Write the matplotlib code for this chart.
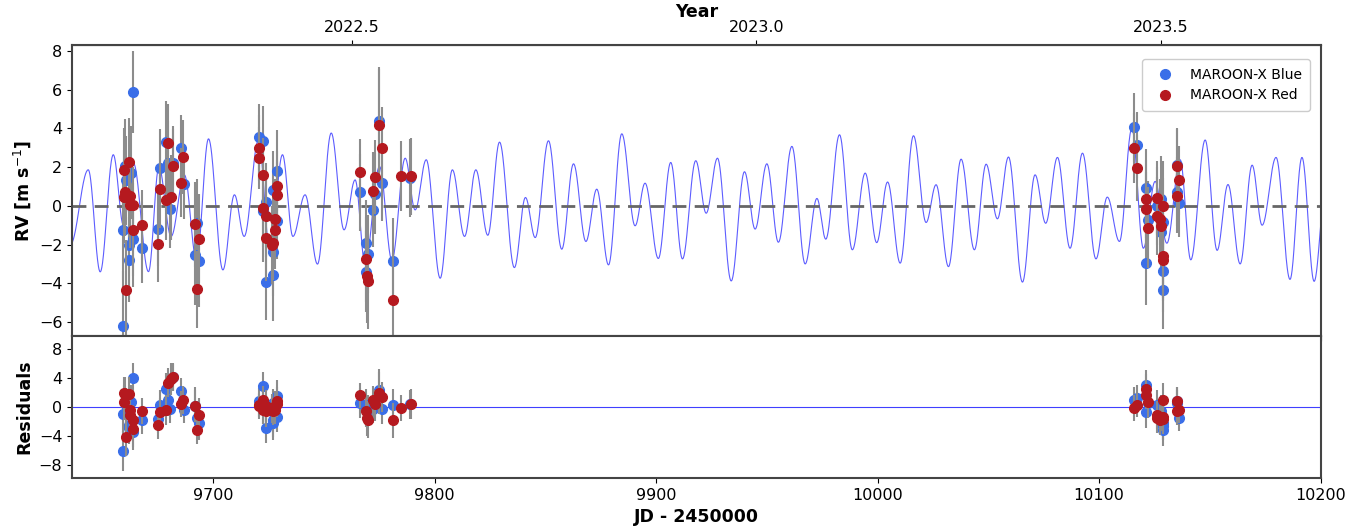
import numpy as np
import matplotlib
matplotlib.use("Agg")
import matplotlib.pyplot as plt
from matplotlib.lines import Line2D

# MAROON-X Blue: time (JD-2450000), RV, residual, error
t_blue = [9659.5, 9659.5, 9660.3, 9660.7, 9661.8, 9661.8, 9662.8, 9663.6, 9663.7, 9667.8,
          9674.9, 9675.8, 9678.8, 9679.8, 9680.6, 9681.8, 9685.7, 9686.9, 9691.9, 9692.6, 9693.7,
          9720.9, 9722.7, 9722.7, 9723.9, 9727.0, 9727.0, 9727.2, 9728.8, 9728.8, 9723.9,
          9766.1, 9768.9, 9768.9, 9770.1, 9772.1, 9773.1, 9775.1, 9776.2, 9781.1, 9788.9,
          10115.9, 10117.0, 10121.1, 10121.1, 10122.0, 10126.0, 10128.0, 10128.0, 10128.7,
          10128.7, 10128.7, 10135.1, 10135.1, 10136.1]
rv_blue = [-6.19, -1.24, 2.07, 1.31, -2.0, -2.79, 1.72, 5.88, -1.71, -2.19,
           -1.2, 1.95, 3.32, 2.2, -0.17, 2.2, 2.98, 1.14, -2.53, -0.9, -2.83,
           3.55, 3.36, -0.29, 0.22, -2.36, -3.57, 0.83, 1.81, -0.76, -3.91,
           0.69, -1.9, -3.41, -2.48, -0.24, 0.62, 4.36, 1.2, -2.84, 1.43,
           4.05, 3.15, 0.91, -2.93, -0.72, 0.0, 0.35, -1.33, -0.86,
           -3.36, -4.34, 2.12, 0.74, 0.17]
res_blue = [-6.03, -0.93, 0.56, 0.3, -2.46, -2.9, 0.65, 3.94, -3.4, -1.85,
            -1.67, 0.32, 2.55, 1.0, -0.2, 4.1, 2.27, -0.37, 0.19, -1.53, -2.13,
            0.88, 2.97, 0.2, -0.3, -1.76, -2.2, 0.5, 1.58, -1.39, -2.92,
            0.56, 0.32, -0.14, -0.37, -0.23, 0.2, 2.41, -0.3, 0.23, 0.4,
            1.0, 1.3, 3.1, -0.74, 0.6, 0.32, -0.5, -1.2, -2.2,
            -3.2, -2.6, 0.9, 0.5, -1.53]
err_blue = [2.8, 2.6, 2.4, 2.3, 2.5, 2.2, 2.4, 2.1, 2.5, 1.8,
            1.9, 2.0, 2.1, 2.2, 2.0, 1.9, 1.7, 1.8, 2.6, 2.3, 2.4,
            1.7, 1.8, 2.6, 2.0, 2.3, 2.4, 2.0, 2.1, 2.0, 2.0,
            2.0, 2.2, 2.1, 2.0, 1.9, 2.1, 2.8, 2.0, 2.2, 2.0,
            1.8, 1.7, 2.0, 2.2, 2.0, 2.0, 2.2, 2.2, 2.3,
            2.1, 2.0, 1.9, 1.8, 1.8]

# MAROON-X Red
t_red = [9659.8, 9659.8, 9660.3, 9660.7, 9661.8, 9662.5, 9662.5, 9663.6, 9663.7, 9667.8,
         9674.9, 9675.8, 9678.8, 9679.4, 9680.8, 9681.8, 9685.7, 9686.6, 9691.9, 9692.6, 9693.7,
         9720.9, 9720.9, 9722.7, 9722.7, 9723.9, 9723.9, 9726.5, 9727.0, 9727.7, 9727.7,
         9728.8, 9728.8,
         9766.1, 9768.9, 9769.4, 9770.1, 9772.1, 9773.1, 9775.1, 9776.2, 9781.1, 9784.9, 9789.3,
         10115.9, 10117.0, 10121.1, 10121.1, 10122.0, 10126.0, 10126.0, 10127.6, 10128.0,
         10128.7, 10128.7, 10128.7, 10135.1, 10136.1, 10135.1]
rv_red = [1.83, 0.48, 0.74, -4.34, 2.24, 0.52, 0.02, 0.02, -1.24, -0.98,
          -1.96, 0.86, 0.31, 3.24, 0.45, 2.07, 1.2, 2.52, -0.95, -4.31, -1.69,
          2.98, 2.47, 1.6, -0.12, -0.52, -1.67, -2.02, -1.93, -0.69, -1.24,
          1.03, 0.57,
          1.77, -2.76, -3.65, -3.86, 0.79, 1.48, 4.15, 2.98, -4.86, 1.55, 1.52,
          2.98, 1.95, 0.35, -0.17, -1.12, 0.4, -0.52, -0.69, -1.03,
          0.0, -2.58, -2.8, 2.07, 1.31, 0.52]
res_red = [1.95, 0.65, 1.85, -4.17, 1.85, -0.37, -1.07, -1.76, -3.06, -0.6,
           -2.46, -0.74, -0.37, 3.34, 3.9, 4.17, 0.46, 1.0, 0.19, -3.15, -1.07,
           0.09, 0.3, 1.0, -0.37, -0.6, 0.2, -0.14, -0.6, 0.1, -0.37,
           0.46, 0.9,
           1.62, -0.51, -1.53, -1.76, 0.93, 0.46, 1.95, 1.39, -1.85, -0.14, 0.42,
           -0.14, 0.32, 2.5, 1.7, 0.65, -1.07, -1.53, -1.76, -1.3,
           1.0, -1.3, -1.6, 0.88, -0.37, -0.6]
err_red = [2.2, 2.4, 2.3, 2.6, 2.3, 2.0, 2.2, 2.0, 2.4, 1.8,
           2.0, 2.0, 2.1, 2.0, 2.2, 1.9, 1.8, 1.9, 2.2, 2.0, 2.3,
           1.7, 1.6, 1.9, 2.0, 2.1, 2.2, 2.0, 1.9, 2.1, 2.0,
           1.8, 1.8,
           1.7, 2.2, 2.4, 2.5, 2.0, 1.9, 2.9, 2.1, 2.4, 1.8, 2.0,
           1.8, 1.7, 2.0, 1.9, 2.1, 1.9, 2.0, 2.1, 2.0,
           2.3, 2.2, 2.1, 1.9, 1.8, 1.9]

# model curve: turning points (time, RV)
model_t = [9635.5, 9643.6, 9649.0, 9654.9, 9659.5, 9664.0, 9670.8, 9675.5, 9681.0, 9687.0,
           9692.5, 9697.9, 9704.4, 9709.6, 9714.0, 9720.5, 9725.7, 9731.3, 9736.0, 9741.5,
           9747.1, 9753.3, 9759.1, 9764.1, 9768.6, 9775.1, 9780.7, 9786.7, 9791.2, 9796.2,
           9802.5, 9808.0, 9813.5, 9818.6, 9824.0, 9829.3, 9836.0, 9841.0, 9845.4, 9851.4,
           9857.4, 9862.7, 9868.3, 9873.2, 9878.5, 9884.5, 9890.5, 9895.0, 9901.0, 9906.6,
           9911.9, 9917.9, 9922.6, 9927.7, 9933.9, 9939.9, 9944.7, 9950.0, 9955.2, 9961.3,
           9967.3, 9972.6, 9976.6, 9982.8, 9988.6, 9994.4, 9999.6, 10004.5, 10010.2, 10016.2,
           10021.9, 10026.4, 10032.0, 10037.7, 10043.7, 10049.0, 10054.1, 10059.1, 10065.4, 10071.1,
           10075.9, 10081.2, 10086.9, 10092.5, 10098.6, 10103.7, 10109.2, 10114.8, 10120.0, 10125.3,
           10130.6, 10136.6, 10141.4, 10147.9, 10153.3, 10158.2, 10163.7, 10169.1, 10173.6, 10179.9,
           10186.2, 10191.6, 10197.1, 10202.0]
model_rv = [-2.0, 1.86, -3.41, 2.64, -1.0, 2.2, -3.4, 2.0, -1.58, 1.6,
            -2.8, 3.46, -3.31, 0.57, -1.58, 3.4, -2.4, 2.64, -1.58, 0.57,
            -3.01, 3.76, -1.24, 1.34, -3.0, 2.03, -2.8, 2.46, -0.21, 2.38,
            -3.74, 1.86, -1.58, 1.86, -1.52, 3.29, -3.19, 0.43, -1.64, 3.36,
            -2.24, 2.17, -1.84, 0.86, -3.05, 3.72, -1.03, 1.17, -2.72, 2.24,
            -2.74, 2.33, -0.38, 2.46, -3.88, 1.76, -1.2, 2.17, -1.88, 3.07,
            -3.0, 0.38, -1.72, 3.67, -2.27, 1.69, -1.9, 1.23, -2.96, 3.62,
            -0.86, 1.09, -3.14, 2.41, -2.27, 2.15, -0.67, 2.52, -3.94, 1.6,
            -0.9, 2.5, -2.19, 2.72, -2.74, 0.45, -1.84, 4.0, -2.19, 1.26,
            -1.93, 2.38, -2.79, 3.4, -2.3, 1.1, -3.0, 2.1, -1.0, 2.5,
            -3.8, 2.5, -3.9, 0.5]

year_ticks = [2022.5, 2023.0, 2023.5]

c_blue = '#3a6ee8'
c_red = '#b5191f'

# smooth line through the turning points
tt = []
vv = []
for i in range(len(model_t) - 1):
    s = np.linspace(0, 1, 40, endpoint=False)
    tt.append(model_t[i] + s * (model_t[i+1] - model_t[i]))
    vv.append(model_rv[i] + (model_rv[i+1] - model_rv[i]) * (1 - np.cos(np.pi * s)) / 2)
tt = np.concatenate(tt)
vv = np.concatenate(vv)

fig = plt.figure(figsize=(13.6, 5.29), dpi=100)
ax1 = fig.add_axes([0.053, 0.365, 0.918, 0.55])
ax2 = fig.add_axes([0.053, 0.096, 0.918, 0.269], sharex=ax1)

ax1.plot(tt, vv, color='#4040ff', lw=0.8, alpha=0.85, zorder=1)
ax1.axhline(0, color='#666666', ls='--', lw=2, dashes=(5, 3), zorder=2)
ax1.errorbar(t_blue, rv_blue, yerr=err_blue, fmt='o', color=c_blue, ecolor='#8c8c8c',
             elinewidth=1.5, ms=7, zorder=3)
ax1.errorbar(t_red, rv_red, yerr=err_red, fmt='o', color=c_red, ecolor='#8c8c8c',
             elinewidth=1.5, ms=7, zorder=4)
ax1.set_ylim(-6.72, 8.31)
ax1.set_yticks([-6, -4, -2, 0, 2, 4, 6, 8])
ax1.set_ylabel(r'RV [m s$^{-1}$]', fontsize=12.5, fontweight='bold')
ax1.tick_params(labelbottom=False, labelsize=11.5)
handles = [Line2D([], [], ls='none', marker='o', ms=7, color=c_blue),
           Line2D([], [], ls='none', marker='o', ms=7, color=c_red)]
ax1.legend(handles, ['MAROON-X Blue', 'MAROON-X Red'], loc='upper right', fontsize=10,
           handletextpad=0.8, borderpad=0.6, framealpha=1, edgecolor='#cccccc',
           bbox_to_anchor=(0.997, 0.975))

ax2.axhline(0, color='#4040ff', lw=0.8, zorder=1)
ax2.errorbar(t_blue, res_blue, yerr=err_blue, fmt='o', color=c_blue, ecolor='#8c8c8c',
             elinewidth=1.5, ms=7, zorder=3)
ax2.errorbar(t_red, res_red, yerr=err_red, fmt='o', color=c_red, ecolor='#8c8c8c',
             elinewidth=1.5, ms=7, zorder=4)
ax2.set_ylim(-9.8, 9.8)
ax2.set_yticks([-8, -4, 0, 4, 8])
ax2.set_xlim(9636.3, 10200)
ax2.set_xticks([9700, 9800, 9900, 10000, 10100, 10200])
ax2.set_xlabel('JD - 2450000', fontsize=12.5, fontweight='bold')
ax2.set_ylabel('Residuals', fontsize=12.5, fontweight='bold')
ax2.tick_params(labelsize=11.5)

# year axis on top
def jd2yr(x):
    return 2000 + (np.asarray(x) + 2450000 - 2451544.5) / 365.25

def yr2jd(y):
    return (np.asarray(y) - 2000) * 365.25 + 2451544.5 - 2450000

top = ax1.secondary_xaxis('top', functions=(jd2yr, yr2jd))
top.set_xticks(year_ticks)
top.set_xticklabels(['%.1f' % y for y in year_ticks])
top.tick_params(labelsize=11.5)
top.set_xlabel('Year', fontsize=12.5, fontweight='bold', labelpad=2)

for a in (ax1, ax2):
    for sp in a.spines.values():
        sp.set_color('#444444')
        sp.set_linewidth(1.5)

fig.savefig('out.png', dpi=100)
